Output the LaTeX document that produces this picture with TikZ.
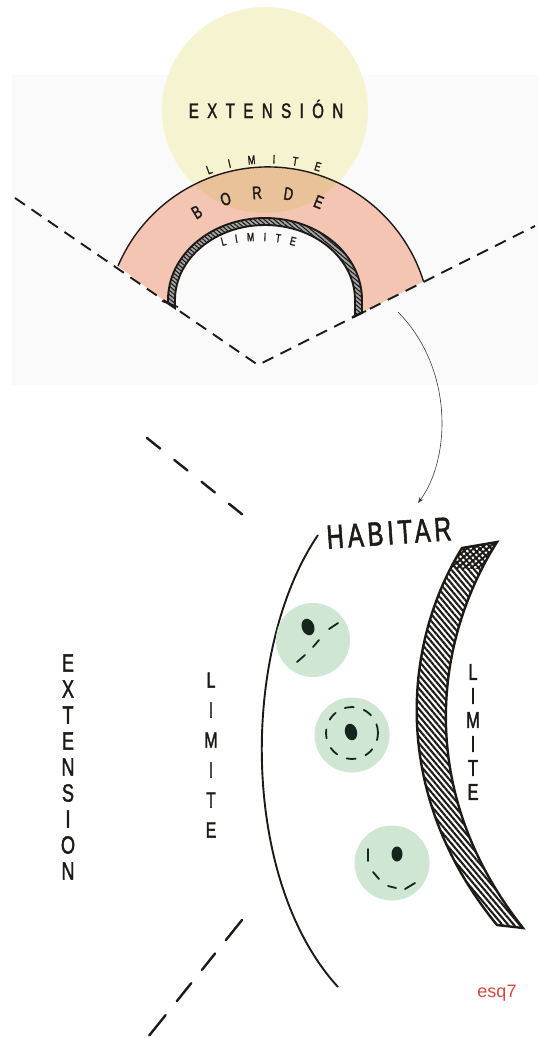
\documentclass[tikz,border=0pt]{standalone}
\usepackage{fontspec}
\setmainfont{Liberation Sans}
\newfontfamily\handfont[FakeStretch=0.72,FakeBold=1.6]{Liberation Sans}
\usetikzlibrary{arrows.meta,decorations.text,patterns,patterns.meta}
\definecolor{inkc}{HTML}{1E1A18}
\definecolor{yelc}{HTML}{F6F4D0}
\definecolor{pinkc}{HTML}{F4C5B3}
\definecolor{overc}{HTML}{EAC29A}
\definecolor{greenc}{HTML}{CEE6D2}
\definecolor{dotc}{HTML}{15241D}
\definecolor{photoc}{HTML}{FAFAFA}
\definecolor{esqc}{HTML}{D24B3F}
\definecolor{arrowc}{HTML}{3A3A3A}
\begin{document}
\begin{tikzpicture}[x=1pt,y=1pt,
  hand/.style={font=\handfont, text=inkc, inner sep=0pt},
  vdash/.style={draw=inkc, line width=1.9pt, dash pattern=on 12pt off 8pt},
  bdash/.style={draw=inkc, line width=2.4pt, line cap=round},
  ink/.style={draw=inkc, line width=1.9pt},
  tick/.style={draw=dotc, line width=1.8pt, line cap=round},
  spot/.style={fill=greenc},
  seed/.style={fill=dotc}]
\useasboundingbox (0,0) rectangle (538,-1038);
\fill[white] (0,0) rectangle (538,-1038);
\fill[photoc] (12,-75) rectangle (538,-385);

% ---------- top sketch ----------
\def\pinkpath{(118,-266) arc[start angle=156.9,end angle=17.3,radius=163] -- (362,-312.7) -- (362,-300) arc[start angle=0,end angle=180,x radius=97,y radius=82] -- (168,-303.4) -- cycle}
\fill[yelc] (265,-110) circle[radius=103];
\fill[pinkc] \pinkpath;
\begin{scope}
  \clip \pinkpath;
  \fill[overc] (265,-110) circle[radius=103];
\end{scope}

\draw[draw=inkc, line width=1.4pt] (118,-266) arc[start angle=156.9,end angle=17.3,radius=163];

% hatched arch
\def\archpath{(168,-303.4) -- (168,-300) arc[start angle=180,end angle=0,x radius=97,y radius=82]
  -- (362,-312.7) -- (355,-316.2) -- (355,-300)
  arc[start angle=0,end angle=180,x radius=90,y radius=75] -- (175,-308.2) -- cycle}
\fill[black!35] \archpath;
\fill[pattern={Lines[angle=-40,distance=3.2pt,line width=1.1pt]}, pattern color=inkc] \archpath;
\draw[draw=inkc, line width=1.9pt] \archpath;
\draw[draw=inkc, line width=1.7pt] (162,-301) -- (178,-307);
\draw[draw=inkc, line width=1.7pt] (352,-317) -- (366,-311);

% dashed V
\coordinate (vl) at (15,-198);
\coordinate (vv) at (258,-365);
\coordinate (vr) at (535,-226);
\draw[vdash] (vl) -- (vv) -- (vr);

% texts top
\node[hand, font=\handfont\fontsize{21}{21}\selectfont\addfontfeature{LetterSpace=40}] (exttop) at (266,-109) {EXTENSIÓN};
\path[shift={(268,-330)}, decorate, decoration={text along path, text align=fit to path,
  text={|\handfont\fontsize{12.5}{12.5}\selectfont\color{inkc}|LIMITE}}]
  (111:166.5) arc[start angle=111,end angle=72,radius=166.5];
\path[shift={(268,-330)}, decorate, decoration={text along path, text align=fit to path,
  text={|\handfont\fontsize{18}{18}\selectfont\color{inkc}|BORDE}}]
  (123:131.5) arc[start angle=123,end angle=66.5,radius=131.5];
\path[shift={(258.5,-376)}, decorate, decoration={text along path, text align=fit to path,
  text={|\handfont\fontsize{12}{12}\selectfont\color{inkc}|LIMITE}}]
  (105.6:135) arc[start angle=105.6,end angle=74.4,radius=135];

% arrow
\coordinate (arrS) at (398,-312);
\coordinate (arrE) at (418,-503);
\draw[draw=arrowc, line width=0.6pt, -{Stealth[length=6pt,width=4.5pt]}]
  (arrS) .. controls (455,-370) and (450,-460) .. (arrE);

% ---------- bottom sketch ----------
\coordinate (d1a) at (147,-438);
\coordinate (d1b) at (243,-515);
\draw[bdash, dash pattern=on 17pt off 18pt] (d1a) -- (d1b);
\coordinate (d2a) at (242,-920);
\coordinate (d2b) at (148,-1037);
\draw[bdash, dash pattern=on 26pt off 17pt on 21pt off 17pt on 23pt off 18pt] (d2a) -- (d2b);

% big limit arc
\draw[ink] (318,-535) .. controls (240,-650) and (240,-880) .. (338,-987);

% hatched crescent
\def\crespath{(462,-548) .. controls (405,-640) and (387,-790) .. (497,-925) -- (523,-928) .. controls (414,-790) and (435,-640) .. (497,-542) -- cycle}
\fill[white] \crespath;
\fill[pattern={Lines[angle=-50,distance=4.4pt,line width=2.1pt]}, pattern color=inkc] \crespath;
\begin{scope}
  \clip \crespath;
  \fill[pattern={Lines[angle=40,distance=4.4pt,line width=2pt]}, pattern color=inkc] (440,-528) rectangle (515,-568);
\end{scope}
\draw[ink, line width=2.4pt] \crespath;

% green spots
\fill[spot] (313,-640) circle[radius=37];
\fill[seed, rotate around={20:(308,-627)}] (308,-627) ellipse[x radius=6.2,y radius=8.5];
\draw[tick] (297,-662) -- (305,-655);
\draw[tick] (313,-647) -- (319,-640);
\draw[tick] (329,-629) -- (338,-623);

\fill[spot] (352,-735) circle[radius=37.5];
\fill[seed, rotate around={15:(351,-732)}] (351,-732) ellipse[x radius=6,y radius=8.5];
\draw[tick, dash pattern=on 9pt off 10.5pt] (352,-733) circle[radius=26];

\fill[spot] (392,-863) circle[radius=37.5];
\fill[seed] (397,-854) ellipse[x radius=5.5,y radius=7.5];
\draw[tick] (368,-849) -- (368,-861);
\draw[tick] (373,-872) -- (379,-879);
\draw[tick] (388,-886) -- (396,-888);
\draw[tick] (405,-889) -- (415,-883);

% bottom texts
\node[hand, rotate=4] (hab) at (389,-533) {\resizebox{125pt}{23pt}{\addfontfeature{LetterSpace=12}HABITAR}};
\node[hand, font=\handfont\fontsize{23}{24}\selectfont, align=center] (limr) at (473,-732) {L\\I\\M\\I\\T\\E};
\node[hand, font=\handfont\fontsize{22}{30}\selectfont, align=center] (liml) at (211,-755) {L\\I\\M\\I\\T\\E};
\node[hand, font=\handfont\fontsize{25}{26}\selectfont, align=center] (extv) at (68,-767) {E\\X\\T\\E\\N\\S\\I\\O\\N};
\node[font=\fontsize{18}{18}\selectfont, text=esqc, inner sep=0pt] (esq) at (497,-993) {esq7};
\end{tikzpicture}
\end{document}
